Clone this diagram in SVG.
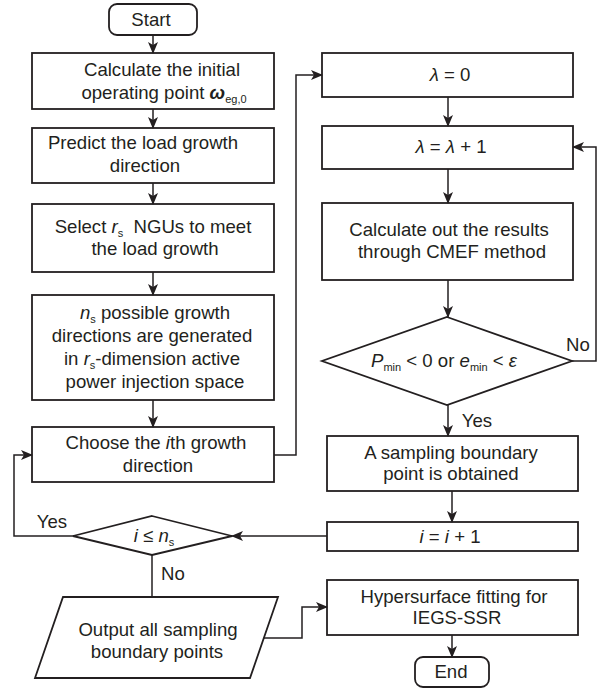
<svg xmlns="http://www.w3.org/2000/svg" width="604" height="691" viewBox="0 0 604 691">
<style>
.b{fill:#fff;stroke:#231f20;stroke-width:1.8}
.c{fill:none;stroke:#231f20;stroke-width:1.5}
text{font-family:"Liberation Sans",Arial,sans-serif;font-size:18.6px;fill:#231f20;text-anchor:middle}
.i{font-style:italic}
.s{font-size:11px}
</style>
<defs>
<marker id="a" markerWidth="12" markerHeight="10" refX="11" refY="5" orient="auto" markerUnits="userSpaceOnUse">
<path d="M0,0 L12,5 L0,10 L3,5 z" fill="#231f20"/>
</marker>
</defs>
<rect width="604" height="691" fill="#fff"/>
<g id="start"><rect class="b" x="109" y="4" width="88" height="31" rx="8"/><text x="151" y="26">Start</text></g>
<g id="n1"><rect class="b" x="32" y="53" width="242" height="56"/><text x="162" y="76">Calculate the initial</text><text x="164" y="99">operating point <tspan font-weight="bold" font-style="italic">ω</tspan><tspan class="s" dy="4">eg,0</tspan></text></g>
<g id="n2"><rect class="b" x="32" y="128" width="242" height="55"/><text x="143" y="149">Predict the load growth</text><text x="145" y="172">direction</text></g>
<g id="n3"><rect class="b" x="32" y="204" width="242" height="68"/><text x="153" y="233">Select <tspan class="i">r</tspan><tspan class="s" dy="4">s</tspan><tspan dy="-4">&#160; NGUs to meet</tspan></text><text x="155" y="255">the load growth</text></g>
<g id="n4"><rect class="b" x="32" y="295" width="242" height="105"/><text x="155" y="319"><tspan class="i">n</tspan><tspan class="s" dy="4">s</tspan><tspan dy="-4"> possible growth</tspan></text><text x="152" y="342">directions are generated</text><text x="152" y="365">in <tspan class="i">r</tspan><tspan class="s" dy="4">s</tspan><tspan dy="-4">-dimension active</tspan></text><text x="155" y="388">power injection space</text></g>
<g id="n5"><rect class="b" x="32" y="427" width="242" height="55"/><text x="156" y="449">Choose the <tspan class="i">i</tspan>th growth</text><text x="158" y="472">direction</text></g>
<g id="d2"><polygon class="b" points="152,516 232,536 152,555 73,536"/><text x="154" y="542"><tspan class="i">i</tspan> ≤ <tspan class="i">n</tspan><tspan class="s" dy="4">s</tspan></text></g>
<g id="out"><polygon class="b" points="63,597 278,597 250,678 35,678"/><text x="158" y="636">Output all sampling</text><text x="157" y="658">boundary points</text></g>
<g id="r1"><rect class="b" x="322" y="53" width="251" height="44"/><text x="450" y="81"><tspan class="i">λ</tspan> = 0</text></g>
<g id="r2"><rect class="b" x="322" y="126" width="251" height="43"/><text x="451" y="153"><tspan class="i">λ</tspan> = <tspan class="i">λ</tspan> + 1</text></g>
<g id="r3"><rect class="b" x="322" y="203" width="251" height="77"/><text x="449" y="236">Calculate out the results</text><text x="452" y="258">through CMEF method</text></g>
<g id="d1"><polygon class="b" points="447,317 572,361 447,405 322,361"/><text x="444" y="367"><tspan class="i">P</tspan><tspan class="s" dy="4">min</tspan><tspan dy="-4"> &lt; 0 or </tspan><tspan class="i">e</tspan><tspan class="s" dy="4">min</tspan><tspan dy="-4"> &lt; </tspan><tspan class="i">ε</tspan></text></g>
<g id="r4"><rect class="b" x="327" y="436" width="251" height="55"/><text x="451" y="459">A sampling boundary</text><text x="451" y="480">point is obtained</text></g>
<g id="r5"><rect class="b" x="327" y="522" width="251" height="29"/><text x="450" y="543"><tspan class="i">i</tspan> = <tspan class="i">i</tspan> + 1</text></g>
<g id="r6"><rect class="b" x="327" y="580" width="251" height="55"/><text x="454" y="603">Hypersurface fitting for</text><text x="457" y="624">IEGS-SSR</text></g>
<g id="end"><rect class="b" x="415" y="657" width="74" height="30" rx="8"/><text x="451" y="678">End</text></g>
<g id="connectors">
<line class="c" x1="153" y1="35" x2="153" y2="53" marker-end="url(#a)"/>
<line class="c" x1="153" y1="109" x2="153" y2="128" marker-end="url(#a)"/>
<line class="c" x1="153" y1="183" x2="153" y2="204" marker-end="url(#a)"/>
<line class="c" x1="153" y1="272" x2="153" y2="295" marker-end="url(#a)"/>
<line class="c" x1="153" y1="400" x2="153" y2="427" marker-end="url(#a)"/>
<polyline class="c" points="274,455 296,455 296,75 322,75" marker-end="url(#a)"/>
<line class="c" x1="448" y1="97" x2="448" y2="126" marker-end="url(#a)"/>
<line class="c" x1="448" y1="169" x2="448" y2="203" marker-end="url(#a)"/>
<line class="c" x1="448" y1="280" x2="448" y2="317" marker-end="url(#a)"/>
<polyline class="c" points="572,361 596,361 596,147 573,147" marker-end="url(#a)"/>
<line class="c" x1="448" y1="405" x2="448" y2="436" marker-end="url(#a)"/>
<line class="c" x1="452" y1="491" x2="452" y2="522" marker-end="url(#a)"/>
<line class="c" x1="327" y1="536" x2="232" y2="536" marker-end="url(#a)"/>
<polyline class="c" points="73,536 14,536 14,455 32,455" marker-end="url(#a)"/>
<line class="c" x1="152" y1="555" x2="152" y2="597"/>
<polyline class="c" points="264,638 302,638 302,607 327,607" marker-end="url(#a)"/>
<line class="c" x1="452" y1="635" x2="452" y2="657" marker-end="url(#a)"/>
<text x="578" y="351">No</text>
<text x="477" y="427">Yes</text>
<text x="52" y="528">Yes</text>
<text x="173" y="580">No</text>
</g>
</svg>
